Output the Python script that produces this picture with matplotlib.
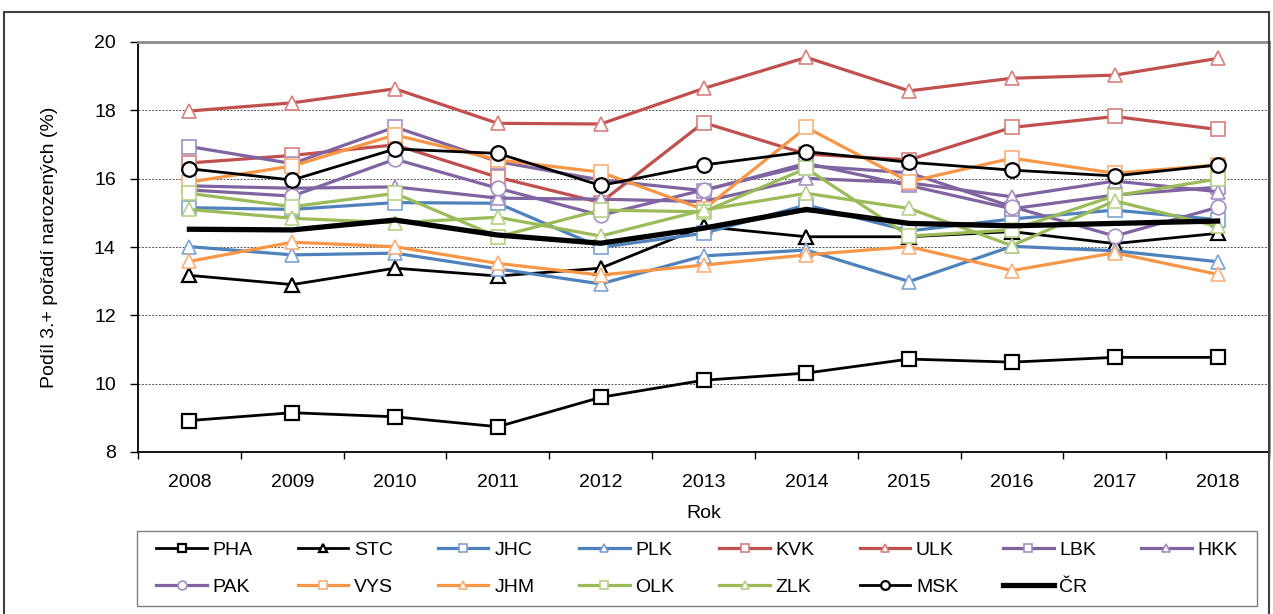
import matplotlib.pyplot as plt
from matplotlib.patches import Rectangle

plt.rcParams['font.family'] = ['Liberation Sans', 'DejaVu Sans']

years = [2008, 2009, 2010, 2011, 2012, 2013, 2014, 2015, 2016, 2017, 2018]

# share of 3rd+ birth order (%) by region
pha = [8.92, 9.15, 9.03, 8.74, 9.60, 10.10, 10.31, 10.72, 10.63, 10.77, 10.77]
stc = [13.17, 12.90, 13.38, 13.15, 13.38, 14.60, 14.30, 14.30, 14.45, 14.10, 14.40]
jhc = [15.15, 15.10, 15.30, 15.28, 13.99, 14.40, 15.23, 14.47, 14.82, 15.08, 14.80]
plk = [14.01, 13.77, 13.82, 13.36, 12.92, 13.74, 13.91, 12.99, 14.02, 13.89, 13.57]
kvk = [16.46, 16.68, 16.99, 16.04, 15.30, 17.64, 16.72, 16.55, 17.50, 17.82, 17.44]
ulk = [17.98, 18.22, 18.63, 17.62, 17.60, 18.64, 19.55, 18.57, 18.94, 19.03, 19.52]
lbk = [16.94, 16.44, 17.51, 16.50, 15.96, 15.65, 16.45, 15.80, 15.12, 15.52, 15.75]
hkk = [15.79, 15.72, 15.76, 15.43, 15.40, 15.33, 16.01, 15.88, 15.47, 15.93, 15.62]
pak = [15.67, 15.49, 16.57, 15.72, 14.93, 15.67, 16.38, 16.17, 15.18, 14.32, 15.16]
vys = [15.90, 16.37, 17.28, 16.55, 16.19, 15.10, 17.50, 15.91, 16.60, 16.16, 16.40]
jhm = [13.58, 14.14, 14.01, 13.52, 13.18, 13.47, 13.77, 14.01, 13.31, 13.83, 13.20]
olk = [15.57, 15.18, 15.57, 14.30, 15.08, 15.03, 16.30, 14.32, 14.50, 15.50, 15.99]
zlk = [15.10, 14.84, 14.71, 14.87, 14.32, 15.08, 15.57, 15.13, 14.04, 15.35, 14.60]
msk = [16.29, 15.96, 16.87, 16.74, 15.80, 16.40, 16.79, 16.48, 16.25, 16.08, 16.40]
cr = [14.52, 14.50, 14.79, 14.35, 14.11, 14.55, 15.10, 14.69, 14.62, 14.69, 14.76]

blue, blue_l = '#4F81BD', '#7ea3d3'
red, red_l = '#C0504D', '#d7807e'
purple, purple_l = '#8064A2', '#a48ec2'
orange, orange_l = '#F79646', '#f9b07a'
green, green_l = '#9BBB59', '#b6d086'

# (label, values, line colour, marker, marker edge colour, line width)
series = [
    ('PHA', pha, 'black', 's', 'black', 2.0),
    ('STC', stc, 'black', '^', 'black', 2.0),
    ('JHC', jhc, blue, 's', blue_l, 2.3),
    ('PLK', plk, blue, '^', blue_l, 2.3),
    ('KVK', kvk, red, 's', red_l, 2.3),
    ('ULK', ulk, red, '^', red_l, 2.3),
    ('LBK', lbk, purple, 's', purple_l, 2.3),
    ('HKK', hkk, purple, '^', purple_l, 2.3),
    ('PAK', pak, purple, 'o', purple_l, 2.3),
    ('VYS', vys, orange, 's', orange_l, 2.3),
    ('JHM', jhm, orange, '^', orange_l, 2.3),
    ('OLK', olk, green, 's', green_l, 2.3),
    ('ZLK', zlk, green, '^', green_l, 2.3),
    ('MSK', msk, 'black', 'o', 'black', 2.0),
]

fig = plt.figure(figsize=(12.73, 6.14), dpi=100)
ax = fig.add_axes([138 / 1273, 1 - 452 / 614, 1131 / 1273, 410 / 614])

handles = []
for label, vals, col, mk, edge, lw in series:
    ew = 1.6 if edge == 'black' else 1.2
    h, = ax.plot(years, vals, color=col, lw=lw, marker=mk, markersize=10.5,
                 markerfacecolor='white', markeredgecolor=edge, markeredgewidth=ew,
                 label=label)
    handles.append(h)
h, = ax.plot(years, cr, color='black', lw=3.8, label='ČR')
handles.append(h)

ax.set_xlim(2007.5, 2018.5)
ax.set_ylim(8, 20)
ax.set_yticks(range(8, 21, 2))
ax.set_xticks(years)
ax.set_xticks([y + 0.5 for y in [2007] + years], minor=True)
ax.tick_params(axis='x', which='major', length=0, labelsize=14, pad=16)
ax.tick_params(axis='x', which='minor', length=5, width=1)
ax.tick_params(axis='y', length=6, width=1, labelsize=14, pad=10)
ax.grid(axis='y', color='#555555', linestyle=(0, (2, 1.5)), linewidth=0.7)
ax.set_axisbelow(True)

for s in ['top', 'right']:
    ax.spines[s].set_color('#8c8c8c')
    ax.spines[s].set_linewidth(2)
ax.spines['left'].set_linewidth(1.3)
ax.spines['bottom'].set_linewidth(1.3)

ax.set_xlabel('Rok', fontsize=14, labelpad=10)
ax.set_ylabel('Podíl 3.+ pořadí narozených (%)', fontsize=14, labelpad=26)

# legend is filled column by column, so reorder to get row-wise layout
order = []
for i in range(8):
    order.append(i)
    if i + 8 < len(handles):
        order.append(i + 8)
fig.legend([handles[i] for i in order], [handles[i].get_label() for i in order],
           loc='center', ncol=8, mode='expand', fontsize=14,
           bbox_to_anchor=(137 / 1273, 1 - 606 / 614, 1120 / 1273, 75 / 614),
           markerscale=0.6, handlelength=2.6, handletextpad=0.3,
           frameon=False, borderpad=0.5, labelspacing=1.0)

# legend frame
fig.patches.append(Rectangle((137 / 1273, 1 - 606 / 614), 1120 / 1273, 75 / 614,
                             transform=fig.transFigure, fill=False,
                             edgecolor='#7f7f7f', linewidth=1))

# outer chart border
fig.patches.append(Rectangle((4 / 1273, -0.05), 1265 / 1273, 1.05 - 12 / 614,
                             transform=fig.transFigure, fill=False,
                             edgecolor='#404040', linewidth=1.5))

fig.savefig('out.png', dpi=100)
